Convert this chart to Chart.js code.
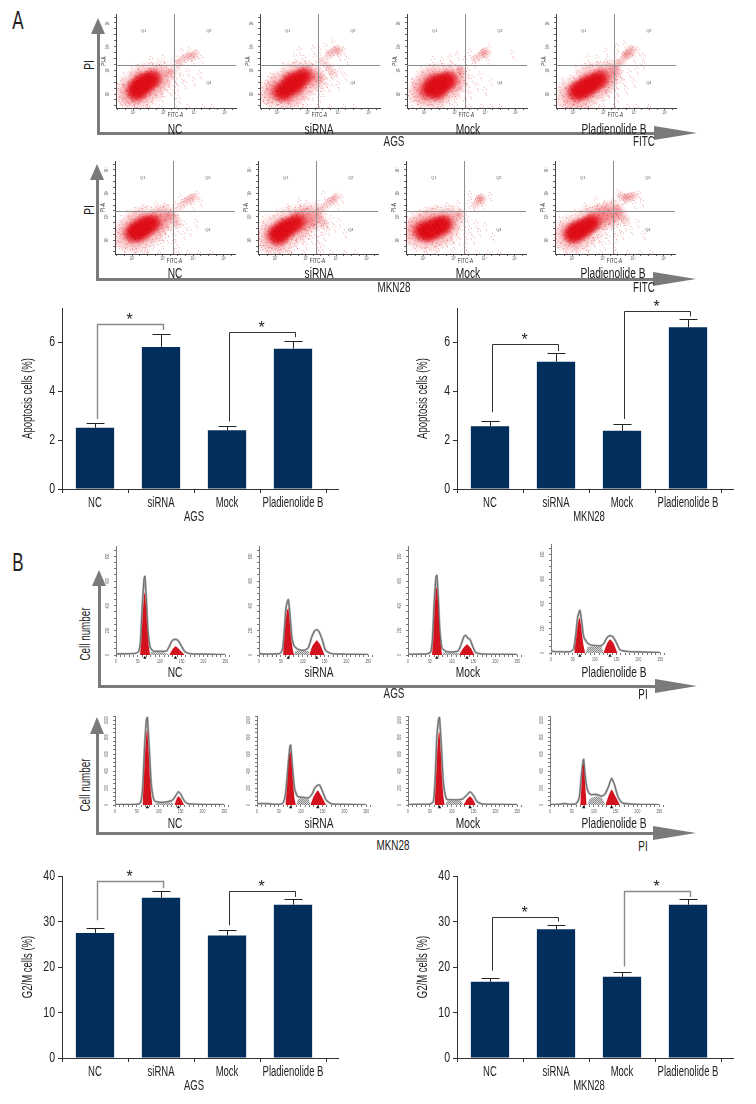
<!DOCTYPE html>
<html>
<head>
<meta charset="utf-8">
<style>
  body { margin: 0; background: #fff; width: 756px; height: 1104px; position: relative; overflow: hidden; }
  canvas { position: absolute; }
  canvas.soft { filter: blur(.4px); }
  .lab { position: absolute; font-family: "Liberation Sans", sans-serif; color: #222; white-space: nowrap; line-height: 1; }
  .bar { position: absolute; background: #7a7a7a; }
  .tri { position: absolute; width: 0; height: 0; border-style: solid; }
</style>
<script src="https://cdn.jsdelivr.net/npm/chart.js@4"></script>
</head>
<body>
<script>
// ---- bar charts ----
const groups = ['NC', 'siRNA', 'Mock', 'Pladienolide B'];
const apoAgsValues = [2.5, 5.8, 2.4, 5.73];
const apoAgsErrTop = [2.7, 6.33, 2.57, 6.03];
const apoMknValues = [2.56, 5.2, 2.38, 6.6];
const apoMknErrTop = [2.79, 5.54, 2.64, 6.93];
const g2mAgsValues = [27.5, 35.2, 26.95, 33.7];
const g2mAgsErrTop = [28.5, 36.7, 28.05, 34.95];
const g2mMknValues = [16.74, 28.3, 17.84, 33.7];
const g2mMknErrTop = [17.6, 29.15, 18.87, 34.95];
// from group, to group, left foot, level, right foot
const apoAgsBrackets = [[0, 1, 2.86, 6.75, 6.49], [2, 3, 2.75, 6.41, 6.2]];
const apoMknBrackets = [[0, 1, 3.13, 5.9, 5.63], [2, 3, 2.86, 7.28, 7.05]];
const g2mAgsBrackets = [[0, 1, 30.25, 38.85, 37.3], [2, 3, 29.15, 36.8, 35.4]];
const g2mMknBrackets = [[0, 1, 19.2, 31, 30], [2, 3, 20.1, 36.8, 35.4]];

// ---- dot plots, log10 of FITC-A and PI-A ----
const gateX = 3.34, gateY = 3.23;
const quadLabels = [['Q1', 2.35, 4.65], ['Q2', 4.48, 4.65], ['Q4', 4.48, 2.45]];

const a1NcCore = [[2.05,2.2],[2.15,2.32],[2.2,2.15],[2.3,2.42],[2.35,2.25],[2.42,2.45],[2.5,2.55],[2.58,2.6],[2.65,2.68],[2.28,2.55],[2.12,2.05]];
const a1NcCloud = [[1.8,2.0],[2.0,1.85],[2.3,1.9],[2.6,2.2],[2.0,2.45],[2.45,2.8],[2.85,2.65],[2.95,2.85],[1.95,2.15],[2.7,2.4],[2.25,2.7]];
const a1NcLate = [[3.75,3.55],[3.85,3.62],[3.95,3.6],[3.6,3.45],[4.05,3.7],[3.5,3.3],[3.3,2.95],[3.2,2.9]];
const a1NcSparse = [[1.6,2.4],[1.7,1.8],[1.75,2.6],[1.9,1.65],[2.05,2.8],[2.2,1.6],[2.3,2.95],[2.55,1.7],[2.7,1.85],[2.85,2.1],[3.0,2.3],[3.05,1.9],[3.15,3.1],[2.85,3.1],[2.6,3.0],[3.25,2.55],[3.3,2.2],[3.42,2.9],[3.5,2.65],[3.55,2.35],[3.6,3.05],[3.7,2.8],[3.8,2.5],[3.9,3.0],[4.1,2.6],[4.3,2.9],[3.45,2.05],[3.6,1.85],[3.5,3.6],[3.7,3.85],[3.95,3.9],[4.1,3.45],[4.2,3.75],[4.35,3.55],[3.4,3.4],[2.95,3.4],[2.7,3.5],[3.1,3.55],[2.6,1.47],[3.0,1.47],[3.5,1.47],[3.9,1.47],[4.4,1.47],[4.7,1.47]];

const a1SiCore = [[2.1,2.1],[2.25,2.2],[2.35,2.35],[2.45,2.25],[2.5,2.45],[2.6,2.55],[2.7,2.6],[2.8,2.72],[2.92,2.78],[2.42,2.6],[2.25,2.0],[2.65,2.35]];
const a1SiCloud = [[1.8,2.05],[1.95,1.95],[2.4,1.8],[2.8,2.3],[2.1,2.45],[2.5,2.85],[3.1,2.75],[3.2,2.6],[2.0,2.3],[2.85,2.9],[2.6,2.05]];
const a1SiLate = [[3.8,3.75],[3.9,3.85],[4.0,3.9],[3.7,3.65],[4.05,3.8],[3.5,3.4],[3.65,3.2],[3.75,3.05],[3.45,2.7],[3.3,2.75],[3.85,2.85]];
const a1SiSparse = [[1.55,2.25],[1.65,1.85],[1.75,2.5],[1.85,1.65],[2.0,2.75],[2.2,1.6],[2.3,3.0],[2.55,1.65],[2.75,1.75],[2.95,2.0],[3.05,1.8],[3.15,2.3],[3.25,2.0],[2.65,3.2],[3.0,3.15],[3.2,3.3],[3.42,2.3],[3.5,2.9],[3.55,2.5],[3.6,2.15],[3.7,2.65],[3.8,2.35],[3.9,2.6],[4.05,2.95],[4.1,2.45],[4.2,3.1],[4.35,2.8],[3.5,1.9],[3.35,3.6],[3.5,3.9],[3.7,4.05],[3.95,4.2],[4.15,3.65],[4.3,3.9],[4.4,3.5],[3.0,3.55],[2.7,3.65],[2.85,3.9],[3.3,3.95],[2.5,1.47],[3.0,1.47],[3.45,1.47],[3.85,1.47],[4.3,1.47],[4.65,1.47]];

const a1MoCore = [[2.15,2.15],[2.25,2.3],[2.35,2.18],[2.42,2.38],[2.5,2.25],[2.58,2.45],[2.68,2.4],[2.72,2.58],[2.3,2.48],[2.52,2.55],[2.45,2.08],[2.82,2.62]];
const a1MoCloud = [[1.9,2.2],[2.05,1.95],[2.4,1.85],[2.75,2.15],[2.05,2.5],[2.5,2.8],[2.95,2.75],[3.05,2.6],[1.95,2.05],[2.9,2.4],[2.2,2.7]];
const a1MoLate = [[3.95,3.75],[4.0,3.8],[4.05,3.7],[3.85,3.62],[3.7,3.5],[3.25,2.95],[3.2,3.05]];
const a1MoSparse = [[1.6,2.1],[1.7,1.7],[1.75,2.55],[1.95,1.6],[2.1,2.85],[2.3,1.55],[2.45,3.0],[2.7,1.7],[2.9,1.85],[3.1,2.15],[3.15,1.8],[3.25,2.45],[3.25,3.1],[2.8,3.1],[3.0,3.3],[3.42,2.75],[3.5,2.35],[3.55,3.0],[3.62,2.05],[3.7,2.7],[3.85,2.4],[3.95,2.85],[4.1,2.2],[4.3,2.6],[3.45,1.75],[3.45,3.5],[3.6,3.8],[3.75,3.35],[4.2,3.45],[4.25,4.0],[5.0,3.75],[2.7,3.45],[2.95,3.6],[3.2,3.7],[2.4,3.5],[2.6,1.47],[3.05,1.47],[3.6,1.47],[4.0,1.47],[4.3,1.47],[4.6,1.47]];

const a1PlCore = [[2.15,2.05],[2.25,2.18],[2.35,2.12],[2.42,2.3],[2.52,2.25],[2.6,2.42],[2.7,2.5],[2.8,2.58],[2.9,2.68],[2.5,2.5],[2.3,2.35],[2.08,2.18]];
const a1PlCloud = [[1.85,1.85],[2.05,1.75],[2.4,1.8],[2.75,2.2],[1.95,2.2],[2.4,2.7],[3.0,2.55],[3.1,2.8],[3.2,2.92],[2.7,2.85],[2.9,2.4]];
const a1PlLate = [[3.75,3.7],[3.85,3.72],[3.7,3.62],[3.9,3.9],[3.98,3.85],[3.8,3.65],[3.42,3.05],[3.3,3.1],[3.5,3.3],[3.62,3.4],[3.4,2.85]];
const a1PlSparse = [[1.6,1.8],[1.7,2.2],[1.85,1.6],[1.8,2.5],[2.05,2.7],[2.2,1.6],[2.3,2.9],[2.6,1.65],[2.75,1.85],[2.95,2.1],[3.1,1.75],[3.15,2.3],[3.25,2.1],[2.7,3.15],[3.0,3.05],[3.2,3.4],[3.42,2.4],[3.5,2.75],[3.55,2.2],[3.65,2.9],[3.75,2.6],[3.85,2.25],[3.95,2.95],[4.1,2.55],[4.2,3.1],[4.4,3.3],[3.55,1.9],[3.5,3.7],[3.55,4.05],[3.8,4.15],[4.1,3.6],[4.25,3.9],[4.4,3.65],[2.9,3.55],[2.6,3.6],[3.2,3.85],[2.55,1.47],[3.0,1.47],[3.45,1.47],[3.9,1.47],[4.2,1.47],[4.6,1.47]];

const a2NcCore = [[2.0,2.32],[2.1,2.25],[2.2,2.4],[2.28,2.3],[2.3,2.55],[2.4,2.45],[2.5,2.6],[2.6,2.68],[2.68,2.78],[2.15,2.5],[2.42,2.72]];
const a2NcCloud = [[1.75,2.25],[1.9,2.0],[2.25,1.95],[2.6,2.3],[1.95,2.6],[2.4,2.95],[2.85,2.75],[2.95,2.95],[3.1,3.0],[2.75,2.5],[2.15,2.8]];
const a2NcLate = [[3.85,3.72],[3.95,3.8],[4.05,3.85],[3.75,3.65],[3.62,3.45],[3.3,3.1],[3.2,3.0],[3.42,2.95],[3.5,2.7]];
const a2NcSparse = [[1.55,2.4],[1.65,1.9],[1.75,2.7],[1.85,1.65],[2.05,2.95],[2.2,1.65],[2.4,3.15],[2.6,1.75],[2.8,1.95],[2.95,2.25],[3.1,1.9],[3.15,2.55],[3.25,2.15],[2.75,3.2],[3.05,3.3],[3.42,2.45],[3.5,2.2],[3.55,2.95],[3.6,2.55],[3.7,2.85],[3.8,2.3],[3.85,2.7],[4.0,2.45],[4.2,2.8],[3.45,1.9],[3.6,1.7],[3.55,3.55],[3.7,3.9],[4.1,3.55],[4.25,4.0],[4.35,3.7],[3.2,3.5],[2.9,3.55],[2.5,3.4],[2.55,1.47],[3.0,1.47],[3.5,1.47],[3.95,1.47],[4.3,1.47],[4.7,1.47]];

const a2SiCore = [[1.98,2.25],[2.08,2.35],[2.18,2.22],[2.25,2.45],[2.35,2.35],[2.42,2.55],[2.52,2.6],[2.62,2.72],[2.75,2.8],[2.3,2.6],[2.12,2.12]];
const a2SiCloud = [[1.75,2.1],[1.95,1.85],[2.3,1.95],[2.65,2.35],[1.9,2.55],[2.35,2.85],[2.95,2.85],[3.1,2.95],[3.25,3.05],[2.75,3.0],[2.85,2.55]];
const a2SiLate = [[3.85,3.7],[3.95,3.75],[4.02,3.85],[3.75,3.6],[3.62,3.42],[3.45,3.25],[3.42,3.0],[3.55,2.85],[3.3,2.7],[3.65,2.65]];
const a2SiSparse = [[1.55,2.35],[1.62,1.95],[1.75,2.65],[1.85,1.7],[2.05,2.95],[2.25,1.6],[2.35,3.1],[2.6,1.7],[2.8,1.9],[3.0,2.2],[3.1,1.85],[3.2,2.45],[3.3,2.1],[2.8,3.2],[3.0,3.35],[3.45,2.4],[3.5,2.15],[3.6,2.5],[3.7,2.25],[3.8,2.75],[3.85,2.45],[3.95,2.95],[4.05,2.6],[4.2,2.85],[4.4,2.35],[3.5,1.85],[3.65,1.75],[3.5,3.7],[3.7,4.0],[4.15,3.5],[4.3,3.85],[3.15,3.6],[2.9,3.7],[2.55,3.45],[2.6,1.47],[3.05,1.47],[3.55,1.47],[3.95,1.47],[4.4,1.47],[4.75,1.47]];

const a2MoCore = [[1.95,2.4],[2.05,2.32],[2.12,2.5],[2.2,2.38],[2.3,2.55],[2.35,2.4],[2.42,2.65],[2.5,2.5],[2.58,2.7],[2.62,2.58],[2.2,2.28],[2.72,2.72]];
const a2MoCloud = [[1.7,2.4],[1.85,2.15],[2.2,2.0],[2.55,2.2],[1.95,2.7],[2.4,2.95],[2.85,2.75],[2.9,2.95],[2.75,2.4],[1.8,2.55],[2.2,2.85]];
const a2MoLate = [[3.85,3.78],[3.92,3.82],[3.82,3.7],[3.95,3.7],[3.72,3.5],[3.25,3.15],[3.15,3.05]];
const a2MoSparse = [[1.5,2.5],[1.6,2.1],[1.7,2.8],[1.85,1.8],[2.05,3.0],[2.2,1.7],[2.45,3.15],[2.6,1.8],[2.85,2.0],[3.0,2.3],[3.1,1.85],[3.2,2.55],[3.28,2.05],[2.75,3.2],[3.05,3.35],[3.45,2.8],[3.5,2.3],[3.55,3.0],[3.65,2.5],[3.75,2.1],[3.85,2.75],[3.95,2.4],[4.15,2.65],[4.4,2.2],[3.5,1.85],[3.6,3.6],[3.65,4.0],[4.1,3.5],[4.3,3.95],[3.25,3.6],[2.9,3.5],[2.55,3.4],[2.55,1.47],[3.05,1.47],[3.55,1.47],[3.9,1.47],[4.25,1.47],[4.6,1.47]];

const a2PlCore = [[1.98,2.3],[2.08,2.4],[2.16,2.28],[2.25,2.45],[2.34,2.4],[2.42,2.55],[2.5,2.62],[2.58,2.7],[2.22,2.55],[2.7,2.78],[2.05,2.2]];
const a2PlCloud = [[1.75,2.2],[1.95,1.95],[2.3,2.05],[2.65,2.4],[1.9,2.55],[2.4,2.85],[2.9,2.95],[3.05,3.0],[3.2,3.1],[2.75,3.0],[3.35,3.18]];
const a2PlLate = [[3.75,3.82],[3.85,3.85],[3.95,3.88],[4.05,3.9],[3.8,3.78],[3.62,3.9],[3.5,3.35],[3.55,3.2],[3.65,3.05],[3.75,2.85],[3.45,3.0]];
const a2PlSparse = [[1.55,2.3],[1.6,1.95],[1.75,2.7],[1.9,1.7],[2.05,2.9],[2.25,1.65],[2.4,3.1],[2.6,1.75],[2.8,2.0],[3.0,2.15],[3.15,1.85],[3.2,2.5],[3.3,2.15],[2.65,3.25],[2.95,3.35],[3.45,2.5],[3.55,2.2],[3.65,2.6],[3.75,2.3],[3.85,2.65],[3.95,2.95],[4.05,2.5],[4.25,2.8],[4.45,2.3],[3.5,1.85],[3.45,3.7],[3.6,4.1],[4.15,3.6],[4.3,4.0],[4.4,3.7],[3.2,3.6],[2.9,3.75],[2.55,3.5],[2.6,1.47],[3.05,1.47],[3.55,1.47],[3.95,1.47],[4.35,1.47],[4.7,1.47]];

// hand placed dots for the point glyphs, -1..1 across the glyph
const speckle = [[-.8,.1],[-.62,-.42],[-.55,.5],[-.4,-.12],[-.35,.78],[-.22,-.7],[-.12,.28],[-.05,-.3],[.05,.62],[.12,-.85],[.2,.08],[.28,-.5],[.35,.42],[.48,-.18],[.52,.75],[.6,-.62],[.7,.25],[.82,-.12],[-.7,-.75],[-.9,.45],[.88,.5],[-.28,.5],[.4,-.85],[-.48,.2],[.1,.9],[-.15,-.95],[.65,.55],[-.6,.78],[.3,.22],[-.3,-.4]];

// ---- DNA histograms, [PI, count] ----
const b1NcLine = [[0,8],[30,10],[45,14],[52,30],[56,110],[60,390],[64,610],[66,638],[69,480],[73,200],[78,65],[85,32],[100,30],[115,32],[122,70],[128,115],[135,127],[142,118],[150,70],[158,25],[170,10],[200,7],[235,4],[250,2]];
const b1NcG1 = [[55,0],[58,110],[61,320],[64,480],[66,510],[69,380],[72,190],[75,70],[78,0]];
const b1NcS = [[78,0],[80,25],[95,22],[110,20],[122,0]];
const b1NcG2 = [[122,0],[130,50],[136,70],[143,52],[157,0]];
const b1SiLine = [[0,20],[5,8],[30,8],[48,12],[54,50],[58,200],[62,390],[67,449],[71,320],[75,150],[80,75],[90,45],[105,40],[113,60],[120,140],[127,195],[132,206],[138,185],[145,120],[152,40],[165,12],[200,6],[250,3]];
const b1SiG1 = [[55,0],[58,130],[61,270],[64,360],[67,381],[70,280],[73,150],[77,50],[80,0]];
const b1SiS = [[80,0],[84,35],[100,32],[113,30],[115,0]];
const b1SiG2 = [[115,0],[122,70],[132,119],[140,85],[150,0]];
const b1MoLine = [[0,5],[30,7],[45,10],[52,25],[56,130],[60,430],[64,630],[66,646],[69,480],[73,190],[78,55],[88,28],[105,25],[115,35],[122,90],[128,150],[132,160],[136,140],[142,125],[148,70],[155,20],[170,8],[200,6],[250,3]];
const b1MoG1 = [[55,0],[58,130],[61,380],[64,530],[66,551],[69,420],[72,210],[75,80],[78,0]];
const b1MoS = [[78,0],[82,22],[100,20],[115,18],[117,0]];
const b1MoG2 = [[117,0],[126,55],[135,87],[144,55],[152,0]];
const b1PlLine = [[0,25],[5,12],[30,10],[45,12],[52,35],[57,160],[61,290],[66,346],[70,260],[75,130],[85,75],[100,60],[115,60],[122,85],[128,125],[135,141],[142,130],[150,80],[158,25],[175,12],[210,8],[250,4]];
const b1PlG1 = [[53,0],[57,100],[60,190],[63,265],[66,287],[69,215],[72,120],[75,50],[78,0]];
const b1PlS = [[80,0],[84,50],[100,54],[115,52],[120,0]];
const b1PlG2 = [[120,0],[128,75],[135,111],[143,80],[152,0]];

const b2NcLine = [[0,5],[30,6],[50,8],[58,25],[63,180],[68,720],[72,1010],[74,1033],[78,700],[83,240],[90,50],[105,32],[120,38],[132,60],[140,120],[145,154],[150,130],[156,70],[165,18],[190,8],[250,3]];
const b2NcG1 = [[63,0],[66,280],[69,620],[72,850],[74,884],[77,620],[80,320],[83,110],[86,0]];
const b2NcS = [[90,0],[95,28],[115,30],[130,30],[136,0]];
const b2NcG2 = [[136,0],[141,75],[145,103],[150,80],[158,0]];
const b2SiLine = [[0,15],[20,16],[40,8],[58,15],[65,120],[70,400],[75,680],[77,706],[81,450],[86,190],[93,100],[105,90],[118,85],[126,130],[132,200],[138,230],[143,237],[150,160],[158,60],[170,15],[200,7],[250,3]];
const b2SiG1 = [[65,0],[68,160],[71,380],[74,580],[77,627],[80,430],[83,220],[86,70],[89,0]];
const b2SiS = [[90,0],[94,70],[105,85],[118,70],[122,0]];
const b2SiG2 = [[122,0],[130,105],[139,174],[148,100],[158,0]];
const b2MoLine = [[0,5],[30,8],[50,10],[58,40],[62,300],[66,800],[70,1010],[72,1033],[76,720],[81,260],[88,70],[100,62],[115,62],[125,70],[133,110],[142,154],[150,110],[158,40],[170,12],[200,8],[250,4]];
const b2MoG1 = [[61,0],[64,280],[67,640],[70,840],[72,864],[75,620],[78,300],[81,100],[84,0]];
const b2MoS = [[85,0],[90,50],[105,55],[120,50],[127,0]];
const b2MoG2 = [[127,0],[135,70],[142,103],[148,70],[155,0]];
const b2PlLine = [[0,5],[20,8],[33,16],[45,8],[60,15],[67,90],[72,360],[76,530],[77,537],[81,320],[85,190],[92,125],[105,125],[118,105],[126,130],[134,220],[141,316],[148,230],[156,90],[166,22],[195,8],[250,3]];
const b2PlG1 = [[69,0],[72,220],[75,450],[77,493],[79,360],[82,130],[84,0]];
const b2PlS = [[86,0],[90,70],[105,103],[118,85],[127,0]];
const b2PlG2 = [[127,0],[134,110],[141,182],[149,110],[160,0]];

const labelFont = '"Liberation Sans", sans-serif';
const squeeze = .68;
Chart.defaults.animation = false;
Chart.defaults.responsive = false;
Chart.defaults.plugins.legend.display = false;
Chart.defaults.plugins.tooltip.enabled = false;

function addCanvas(left, top, width, height, soft) {
  const c = document.createElement('canvas');
  c.width = width; c.height = height;
  c.style.left = left + 'px'; c.style.top = top + 'px';
  if (soft) c.className = 'soft';
  document.body.appendChild(c);
  return c.getContext('2d');
}

function addText(text, cx, cy, size, rotate) {
  const d = document.createElement('div');
  d.className = 'lab';
  d.textContent = text;
  d.style.left = cx + 'px'; d.style.top = cy + 'px'; d.style.fontSize = size + 'px';
  d.style.transform = 'translate(-50%,-50%)' + (rotate ? ' rotate(-90deg)' : '') + ' scaleX(' + squeeze + ')';
  document.body.appendChild(d);
}

// the reference uses a condensed face, none is installed, so squeeze the text
function squeezed(ctx, text, x, y, size, rotate, align) {
  ctx.save();
  ctx.translate(x, y);
  if (rotate) ctx.rotate(-Math.PI / 2);
  ctx.scale(squeeze, 1);
  ctx.font = size + 'px ' + labelFont;
  ctx.textAlign = align || 'center';
  ctx.textBaseline = 'middle';
  ctx.fillText(text, 0, 0);
  ctx.restore();
}

const barOverlay = {
  id: 'barOverlay',
  afterDatasetsDraw(chart, args, opts) {
    const { ctx, scales: { x, y }, chartArea } = chart;
    ctx.save();
    ctx.strokeStyle = '#333'; ctx.lineWidth = 1;
    ctx.beginPath();
    ctx.moveTo(chartArea.right, chartArea.bottom + .5);
    ctx.lineTo(chartArea.right + 13, chartArea.bottom + .5);
    ctx.stroke();
    ctx.strokeStyle = '#222';
    opts.errTop.forEach((v, i) => {
      const px = Math.round(x.getPixelForValue(i)) + .5;
      const top = Math.round(y.getPixelForValue(v)) + .5;
      ctx.beginPath();
      ctx.moveTo(px, y.getPixelForValue(opts.values[i]));
      ctx.lineTo(px, top);
      ctx.moveTo(px - 9, top);
      ctx.lineTo(px + 9, top);
      ctx.stroke();
    });
    opts.brackets.forEach((b, i) => {
      const x1 = Math.round(x.getPixelForValue(b[0]) + 1.5) + .5;
      const x2 = Math.round(x.getPixelForValue(b[1]) + 1.5) + .5;
      const level = Math.round(y.getPixelForValue(b[3])) + .5;
      ctx.strokeStyle = opts.bracketColors[i];
      ctx.lineWidth = opts.bracketColors[i] === '#333' ? 1 : 1.4;
      ctx.beginPath();
      ctx.moveTo(x1, y.getPixelForValue(b[2]));
      ctx.lineTo(x1, level);
      ctx.lineTo(x2, level);
      ctx.lineTo(x2, y.getPixelForValue(b[4]));
      ctx.stroke();
      ctx.fillStyle = '#222';
      ctx.font = '16px ' + labelFont;
      ctx.textAlign = 'center';
      ctx.textBaseline = 'middle';
      ctx.fillText('*', (x1 + x2) / 2 - 1, level - 3.5);
    });
    ctx.fillStyle = '#222';
    groups.forEach((g, i) => squeezed(ctx, g, x.getPixelForValue(i), chartArea.bottom + 14, 14));
    squeezed(ctx, opts.name, (x.getPixelForValue(1) + x.getPixelForValue(2)) / 2, chartArea.bottom + 27.7, 14);
    y.ticks.forEach(t => squeezed(ctx, String(t.value), chartArea.left - 7, y.getPixelForValue(t.value), 15.5, false, 'right'));
    squeezed(ctx, opts.yTitle, chartArea.left - 33.5, (chartArea.top + chartArea.bottom) / 2, 14, true);
    ctx.restore();
  }
};

function barChart(axisX, axisTop, axisBottom, yMax, step, yTitle, values, errTop, brackets, bracketColors, name) {
  const left = 42, padTop = 22, bottom = 36, band = 264.4;
  const ctx = addCanvas(axisX - left, axisTop - padTop, left + band + 15, padTop + axisBottom - axisTop + bottom);
  new Chart(ctx, {
    type: 'bar',
    data: { labels: groups, datasets: [{ data: values, backgroundColor: '#012e5b', barPercentage: .58, categoryPercentage: 1 }] },
    plugins: [barOverlay],
    options: {
      layout: { padding: { top: padTop, right: 15 } },
      plugins: { barOverlay: { values, errTop, brackets, bracketColors, name, yTitle } },
      scales: {
        x: {
          grid: { drawOnChartArea: false, tickLength: 4, color: '#333' },
          border: { color: '#333' },
          ticks: { display: false },
          afterFit: s => { s.height = bottom; }
        },
        y: {
          min: 0, max: yMax,
          grid: { drawOnChartArea: false, tickLength: 4, color: '#333' },
          border: { color: '#333' },
          ticks: { display: false, stepSize: step, includeBounds: false },
          afterFit: s => { s.width = left; }
        }
      }
    }
  });
}

// soft round glyph with hand placed dots on it, for the dense parts of a dot plot
function glyph(size, glow, glowEnd, dots, dotColor) {
  const c = document.createElement('canvas');
  c.width = size; c.height = size;
  const g = c.getContext('2d');
  const r = size / 2;
  const grad = g.createRadialGradient(r, r, 0, r, r, r);
  grad.addColorStop(0, glow);
  grad.addColorStop(1, glowEnd);
  g.fillStyle = grad;
  g.fillRect(0, 0, size, size);
  g.fillStyle = dotColor;
  speckle.slice(0, dots).forEach(d => g.fillRect(Math.round(r + d[0] * r * .95), Math.round(r + d[1] * r * .95), 1, 1));
  return c;
}
const coreGlyph = glyph(22, 'rgba(224,14,24,.95)', 'rgba(224,14,24,0)', 6, 'rgba(150,0,10,.5)');
const cloudGlyph = glyph(30, 'rgba(236,60,68,.3)', 'rgba(236,60,68,0)', 22, 'rgba(216,40,48,.45)');
const lateGlyph = glyph(11, 'rgba(228,80,86,.26)', 'rgba(228,80,86,0)', 6, 'rgba(214,50,58,.45)');
const sparseGlyph = glyph(15, 'rgba(255,255,255,0)', 'rgba(255,255,255,0)', 5, 'rgba(220,80,86,.5)');

const dotOverlay = {
  id: 'dotOverlay',
  afterDatasetsDraw(chart) {
    const { ctx, scales: { x, y }, chartArea } = chart;
    ctx.save();
    ctx.strokeStyle = '#8c8c8c'; ctx.lineWidth = 1;
    ctx.beginPath();
    const gx = Math.round(x.getPixelForValue(gateX)) + .5, gy = Math.round(y.getPixelForValue(gateY)) + .5;
    ctx.moveTo(gx, chartArea.top); ctx.lineTo(gx, chartArea.bottom);
    ctx.moveTo(chartArea.left, gy); ctx.lineTo(chartArea.right, gy);
    ctx.stroke();
    ctx.fillStyle = '#555';
    ctx.textAlign = 'center'; ctx.textBaseline = 'middle';
    ctx.font = '4px ' + labelFont;
    quadLabels.forEach(q => ctx.fillText(q[0], x.getPixelForValue(q[1]), y.getPixelForValue(q[2])));
    const decades = { 2: '10²', 3: '10³', 4: '10⁴', 5: '10⁵' };
    [2, 3, 4, 5].forEach(d => {
      squeezed(ctx, decades[d], x.getPixelForValue(d), chartArea.bottom + 4.5, 4.5);
      squeezed(ctx, decades[d], chartArea.left - 8, y.getPixelForValue(d), 4.5, true);
    });
    ctx.fillStyle = '#333';
    squeezed(ctx, 'FITC-A', gx + 1, chartArea.bottom + 7.5, 7);
    squeezed(ctx, 'PI-A', chartArea.left - 12, y.getPixelForValue(3.39), 7, true);
    ctx.restore();
  }
};

function dotPlot(axisX, top, bottomY, core, cloud, late, sparse) {
  const left = 16, under = 14;
  const ctx = addCanvas(axisX - left, top, left + 122, bottomY - top + under, true);
  new Chart(ctx, {
    type: 'scatter',
    data: {
      datasets: [
        { data: core, pointStyle: coreGlyph, pointRadius: 5 },
        { data: sparse, pointStyle: sparseGlyph, pointRadius: 5 },
        { data: late, pointStyle: lateGlyph, pointRadius: 5 },
        { data: cloud, pointStyle: cloudGlyph, pointRadius: 5 }
      ]
    },
    plugins: [dotOverlay],
    options: {
      layout: { autoPadding: false, padding: { right: 2 } },
      scales: {
        x: {
          type: 'linear', min: 1.44, max: 5.37,
          grid: { drawOnChartArea: false, tickLength: 2, color: '#666' },
          border: { color: '#444' },
          ticks: { display: false, stepSize: .25, includeBounds: false, autoSkip: false },
          afterFit: s => { s.height = under; }
        },
        y: {
          type: 'linear', min: 1.41, max: 5.38,
          grid: { drawOnChartArea: false, tickLength: 2, color: '#666' },
          border: { color: '#444' },
          ticks: { display: false, stepSize: .25, includeBounds: false, autoSkip: false },
          afterFit: s => { s.width = left; }
        }
      }
    }
  });
}

function hatch(ctx) {
  const p = document.createElement('canvas');
  p.width = 2; p.height = 2;
  const c = p.getContext('2d');
  c.fillStyle = '#d6d6d6'; c.fillRect(0, 0, 2, 2);
  c.fillStyle = '#8a8a8a'; c.fillRect(0, 1, 1, 1); c.fillRect(1, 0, 1, 1);
  return ctx.createPattern(p, 'repeat');
}

const histOverlay = {
  id: 'histOverlay',
  afterDatasetsDraw(chart) {
    const { ctx, scales: { x, y }, chartArea } = chart;
    ctx.save();
    ctx.fillStyle = '#555';
    x.ticks.filter(t => t.value % 50 === 0).forEach(t => squeezed(ctx, String(t.value), x.getPixelForValue(t.value), chartArea.bottom + 6.5, 5));
    y.ticks.filter(t => t.value % 200 === 0).forEach(t => squeezed(ctx, String(t.value), chartArea.left - 8, y.getPixelForValue(t.value), 5, true));
    ctx.restore();
  }
};

function histPlot(axisX, top, bottomY, yMax, line, g1, s, g2, marks) {
  const left = 16, under = 12;
  const ctx = addCanvas(axisX - left, top, left + 116, bottomY - top + under, true);
  const shape = { type: 'line', pointRadius: 0, borderWidth: 0, tension: .1, fill: 'origin' };
  new Chart(ctx, {
    type: 'line',
    data: {
      datasets: [
        { type: 'scatter', data: marks.map(m => [m, yMax * -.025]), pointStyle: 'triangle', pointRadius: 2, backgroundColor: '#111', pointBorderWidth: 0, clip: false },
        { type: 'line', data: line, pointRadius: 0, borderWidth: .6, borderColor: '#444', tension: .2 },
        { ...shape, data: g1, backgroundColor: '#d4121e' },
        { ...shape, data: g2, backgroundColor: '#d4121e' },
        { ...shape, data: s, backgroundColor: hatch(ctx) },
        { type: 'line', data: line, pointRadius: 0, borderWidth: 2.2, borderColor: '#a8a8a8', tension: .2 }
      ]
    },
    plugins: [histOverlay],
    options: {
      layout: { autoPadding: false, padding: { right: 1 } },
      scales: {
        x: {
          type: 'linear', min: 0, max: 263,
          grid: { drawOnChartArea: false, drawTicks: true, tickLength: 2, color: '#777' },
          border: { display: false },
          ticks: { display: false, stepSize: 10, autoSkip: false, includeBounds: false },
          afterFit: s => { s.height = under; }
        },
        y: {
          min: 0, max: yMax,
          grid: { drawOnChartArea: false, tickLength: 2, color: '#777' },
          border: { color: '#777', dash: [1, 1] },
          ticks: { display: false, stepSize: 50, autoSkip: false, includeBounds: false },
          afterFit: s => { s.width = left; }
        }
      }
    }
  });
}

function arrow(x, topTip, topBase, baseY, hBase, hTip) {
  const add = (cls, css) => {
    const d = document.createElement('div');
    d.className = cls; d.style.cssText = css;
    document.body.appendChild(d);
  };
  add('bar', `left:${x - 1.5}px;top:${topBase}px;width:3px;height:${baseY - topBase + 1.5}px`);
  add('bar', `left:${x - 1.5}px;top:${baseY - 1.5}px;width:${hBase - x + 1.5}px;height:3px`);
  add('tri', `left:${x - 7}px;top:${topTip}px;border-width:0 7px ${topBase - topTip}px 7px;border-color:transparent transparent #7a7a7a transparent`);
  add('tri', `left:${hBase}px;top:${baseY - 7}px;border-width:7px 0 7px ${hTip - hBase}px;border-color:transparent transparent transparent #7a7a7a`);
}

// panel A flow cytometry
arrow(98, 18, 34, 133, 654, 697);
arrow(97, 164, 180, 279, 653, 696);
dotPlot(116, 14, 108, a1NcCore, a1NcCloud, a1NcLate, a1NcSparse);
dotPlot(260, 14, 108, a1SiCore, a1SiCloud, a1SiLate, a1SiSparse);
dotPlot(407, 14, 108, a1MoCore, a1MoCloud, a1MoLate, a1MoSparse);
dotPlot(556, 14, 108, a1PlCore, a1PlCloud, a1PlLate, a1PlSparse);
dotPlot(115, 161, 254, a2NcCore, a2NcCloud, a2NcLate, a2NcSparse);
dotPlot(258, 161, 254, a2SiCore, a2SiCloud, a2SiLate, a2SiSparse);
dotPlot(406, 161, 254, a2MoCore, a2MoCloud, a2MoLate, a2MoSparse);
dotPlot(555, 161, 254, a2PlCore, a2PlCloud, a2PlLate, a2PlSparse);

// panel A bars
barChart(62, 308, 489, 7.39, 2, 'Apoptosis cells (%)', apoAgsValues, apoAgsErrTop, apoAgsBrackets, ['#8a8a8a', '#333'], 'AGS');
barChart(457, 308, 489, 7.39, 2, 'Apoptosis cells (%)', apoMknValues, apoMknErrTop, apoMknBrackets, ['#333', '#333'], 'MKN28');

// panel B histograms
arrow(99, 570, 586, 686, 655, 697);
arrow(97, 717, 734, 833, 653, 696);
histPlot(116, 546, 655, 884, b1NcLine, b1NcG1, b1NcS, b1NcG2, [66, 136]);
histPlot(259, 546, 655, 884, b1SiLine, b1SiG1, b1SiS, b1SiG2, [67, 132]);
histPlot(408, 546, 655, 884, b1MoLine, b1MoG1, b1MoS, b1MoG2, [66, 135]);
histPlot(551, 544, 653, 884, b1PlLine, b1PlG1, b1PlS, b1PlG2, [66, 135]);
histPlot(115, 716, 805, 1050, b2NcLine, b2NcG1, b2NcS, b2NcG2, [74, 145]);
histPlot(257, 716, 805, 1050, b2SiLine, b2SiG1, b2SiS, b2SiG2, [77, 139]);
histPlot(408, 716, 805, 1050, b2MoLine, b2MoG1, b2MoS, b2MoG2, [72, 142]);
histPlot(550, 716, 805, 1050, b2PlLine, b2PlG1, b2PlS, b2PlG2, [77, 141]);

// panel B bars
barChart(62, 876, 1058, 40, 10, 'G2/M cells (%)', g2mAgsValues, g2mAgsErrTop, g2mAgsBrackets, ['#8a8a8a', '#333'], 'AGS');
barChart(457, 876, 1058, 40, 10, 'G2/M cells (%)', g2mMknValues, g2mMknErrTop, g2mMknBrackets, ['#333', '#8a8a8a'], 'MKN28');

// figure labels
addText('A', 18, 20, 25);
addText('B', 18, 562, 25);
addText('PI', 88, 65, 15, true);
addText('PI', 88, 210, 15, true);
addText('Cell number', 85, 634, 14.5, true);
addText('Cell number', 85, 785, 14.5, true);
const panelNames = [[175, 319, 467.5, 614], [175, 319, 467.5, 613]];
[[128, 0], [272, 1], [671, 0], [822, 0]].forEach(row => {
  groups.forEach((g, i) => addText(g, panelNames[row[1]][i], row[0], 15));
});
addText('AGS', 394, 141, 14.5);
addText('FITC', 644, 141, 14.5);
addText('MKN28', 394, 287, 14.5);
addText('FITC', 644, 287, 14.5);
addText('AGS', 394, 693, 14.5);
addText('PI', 643, 694, 14.5);
addText('MKN28', 393, 845, 14.5);
addText('PI', 643, 846, 14.5);
</script>
</body>
</html>
